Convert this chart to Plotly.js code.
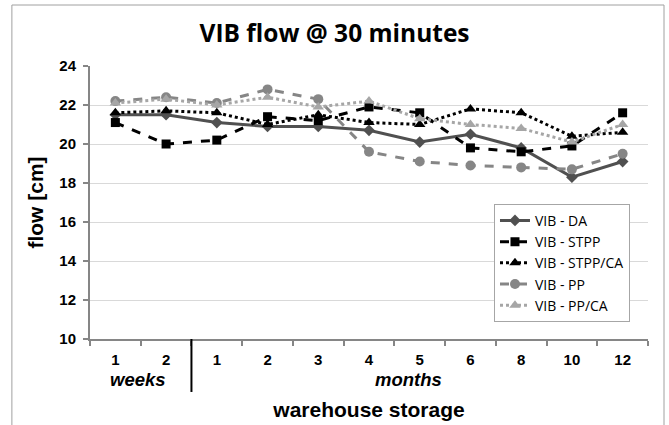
<!DOCTYPE html>
<html>
<head>
<meta charset="utf-8">
<script src="https://cdn.plot.ly/plotly-3.0.1.min.js"></script>
<style>
html,body{margin:0;padding:0;background:#fff;}
#chart{width:669px;height:425px;}
</style>
</head>
<body>
<div id="chart"></div>
<script>
const categories = ['1','2','1','2','3','4','5','6','8','10','12'];
const groupLabels = ['weeks','months'];
const seriesNames = ['VIB - DA','VIB - STPP','VIB - STPP/CA','VIB - PP','VIB - PP/CA'];
const vibDA     = [21.5,21.5,21.1,20.9,20.9,20.7,20.1,20.5,19.8,18.3,19.1];
const vibSTPP   = [21.1,20.0,20.2,21.4,21.2,21.9,21.6,19.8,19.6,19.9,21.6];
const vibSTPPCA = [21.6,21.7,21.6,21.0,21.5,21.1,21.0,21.8,21.6,20.4,20.6];
const vibPP     = [22.2,22.4,22.1,22.8,22.3,19.6,19.1,18.9,18.8,18.7,19.5];
const vibPPCA   = [22.1,22.3,22.0,22.4,21.9,22.2,21.3,21.0,20.8,20.1,21.0];
const yTicks = [10,12,14,16,18,20,22,24];

const idx = categories.map((c,i)=>i);
const bounds = categories.map((c,i)=>i-0.5).concat([categories.length-0.5]);

const styles = [
  {color:'#505050', dash:'solid', symbol:'diamond', size:9},
  {color:'#000000', dash:'dash', symbol:'square', size:9},
  {color:'#000000', dash:'dot', symbol:'triangle-up', size:10},
  {color:'#868686', dash:'dash', symbol:'circle', size:10},
  {color:'#a6a6a6', dash:'dot', symbol:'triangle-up', size:10}
];
const vals = [vibDA, vibSTPP, vibSTPPCA, vibPP, vibPPCA];

const traces = vals.map((v,k)=>({
  x: idx, y: v, name: seriesNames[k], type:'scatter', mode:'lines+markers',
  line:{color:styles[k].color, width:3, dash:styles[k].dash},
  marker:{color:styles[k].color, symbol:styles[k].symbol, size:styles[k].size}
}));

const bold = {family:'Liberation Sans, Arial, sans-serif', color:'#000', weight:700};

const layout = {
  width:669, height:425,
  margin:{l:90, r:21, t:66, b:86},
  paper_bgcolor:'#ffffff', plot_bgcolor:'#ffffff',
  showlegend:true,
  title:{text:'VIB flow @ 30 minutes', x:0.5, xanchor:'center', y:0.922, yanchor:'middle',
    font:{family:'Open Sans', size:24.5, color:'#000', weight:700}},
  xaxis:{
    range:[-0.5, categories.length-0.5], tickmode:'array', tickvals:idx, ticktext:categories,
    ticks:'', showgrid:false, zeroline:false, showline:true, linecolor:'#868686', linewidth:2,
    tickfont:Object.assign({size:15}, bold),
    ticklabelstandoff:6,
    minor:{tickmode:'array', tickvals:bounds, ticks:'outside', ticklen:5, tickcolor:'#868686', tickwidth:2, showgrid:false},
    title:{text:'warehouse storage', font:Object.assign({size:21}, bold), standoff:35}
  },
  yaxis:{
    range:[10,24], tickmode:'array', tickvals:yTicks, ticks:'outside', ticklen:5, tickcolor:'#868686', tickwidth:2,
    showgrid:true, gridcolor:'#d9d9d9', gridwidth:1, zeroline:false, showline:true, linecolor:'#868686', linewidth:2,
    tickfont:Object.assign({size:15}, bold),
    ticklabelstandoff:4,
    title:{text:'flow [cm]', font:Object.assign({size:21}, bold), standoff:10}
  },
  legend:{x:0.724, xanchor:'left', y:0.495, yanchor:'top', bgcolor:'#ffffff', bordercolor:'#a6a6a6', borderwidth:1,
    font:{family:'Open Sans', size:14, color:'#000'}, itemwidth:30},
  annotations:[
    {text:'<i>'+groupLabels[0]+'</i>', x:0.45, xref:'x', y:-0.15, yref:'paper', showarrow:false, yanchor:'middle',
      font:Object.assign({size:18.5}, bold)},
    {text:'<i>'+groupLabels[1]+'</i>', x:5.77, xref:'x', y:-0.15, yref:'paper', showarrow:false, yanchor:'middle',
      font:Object.assign({size:18.5}, bold)}
  ],
  shapes:[
    {type:'line', xref:'x', yref:'paper', x0:1.5, x1:1.5, y0:0, y1:-0.194, line:{color:'#000', width:2}},
    {type:'rect', xref:'paper', yref:'paper', x0:-0.14, x1:1.0287, y0:-0.5, y1:1.2234, line:{color:'#a0a0a0', width:1}, layer:'below'}
  ]
};

Plotly.newPlot('chart', traces, layout, {displayModeBar:false, staticPlot:true});
</script>
</body>
</html>
